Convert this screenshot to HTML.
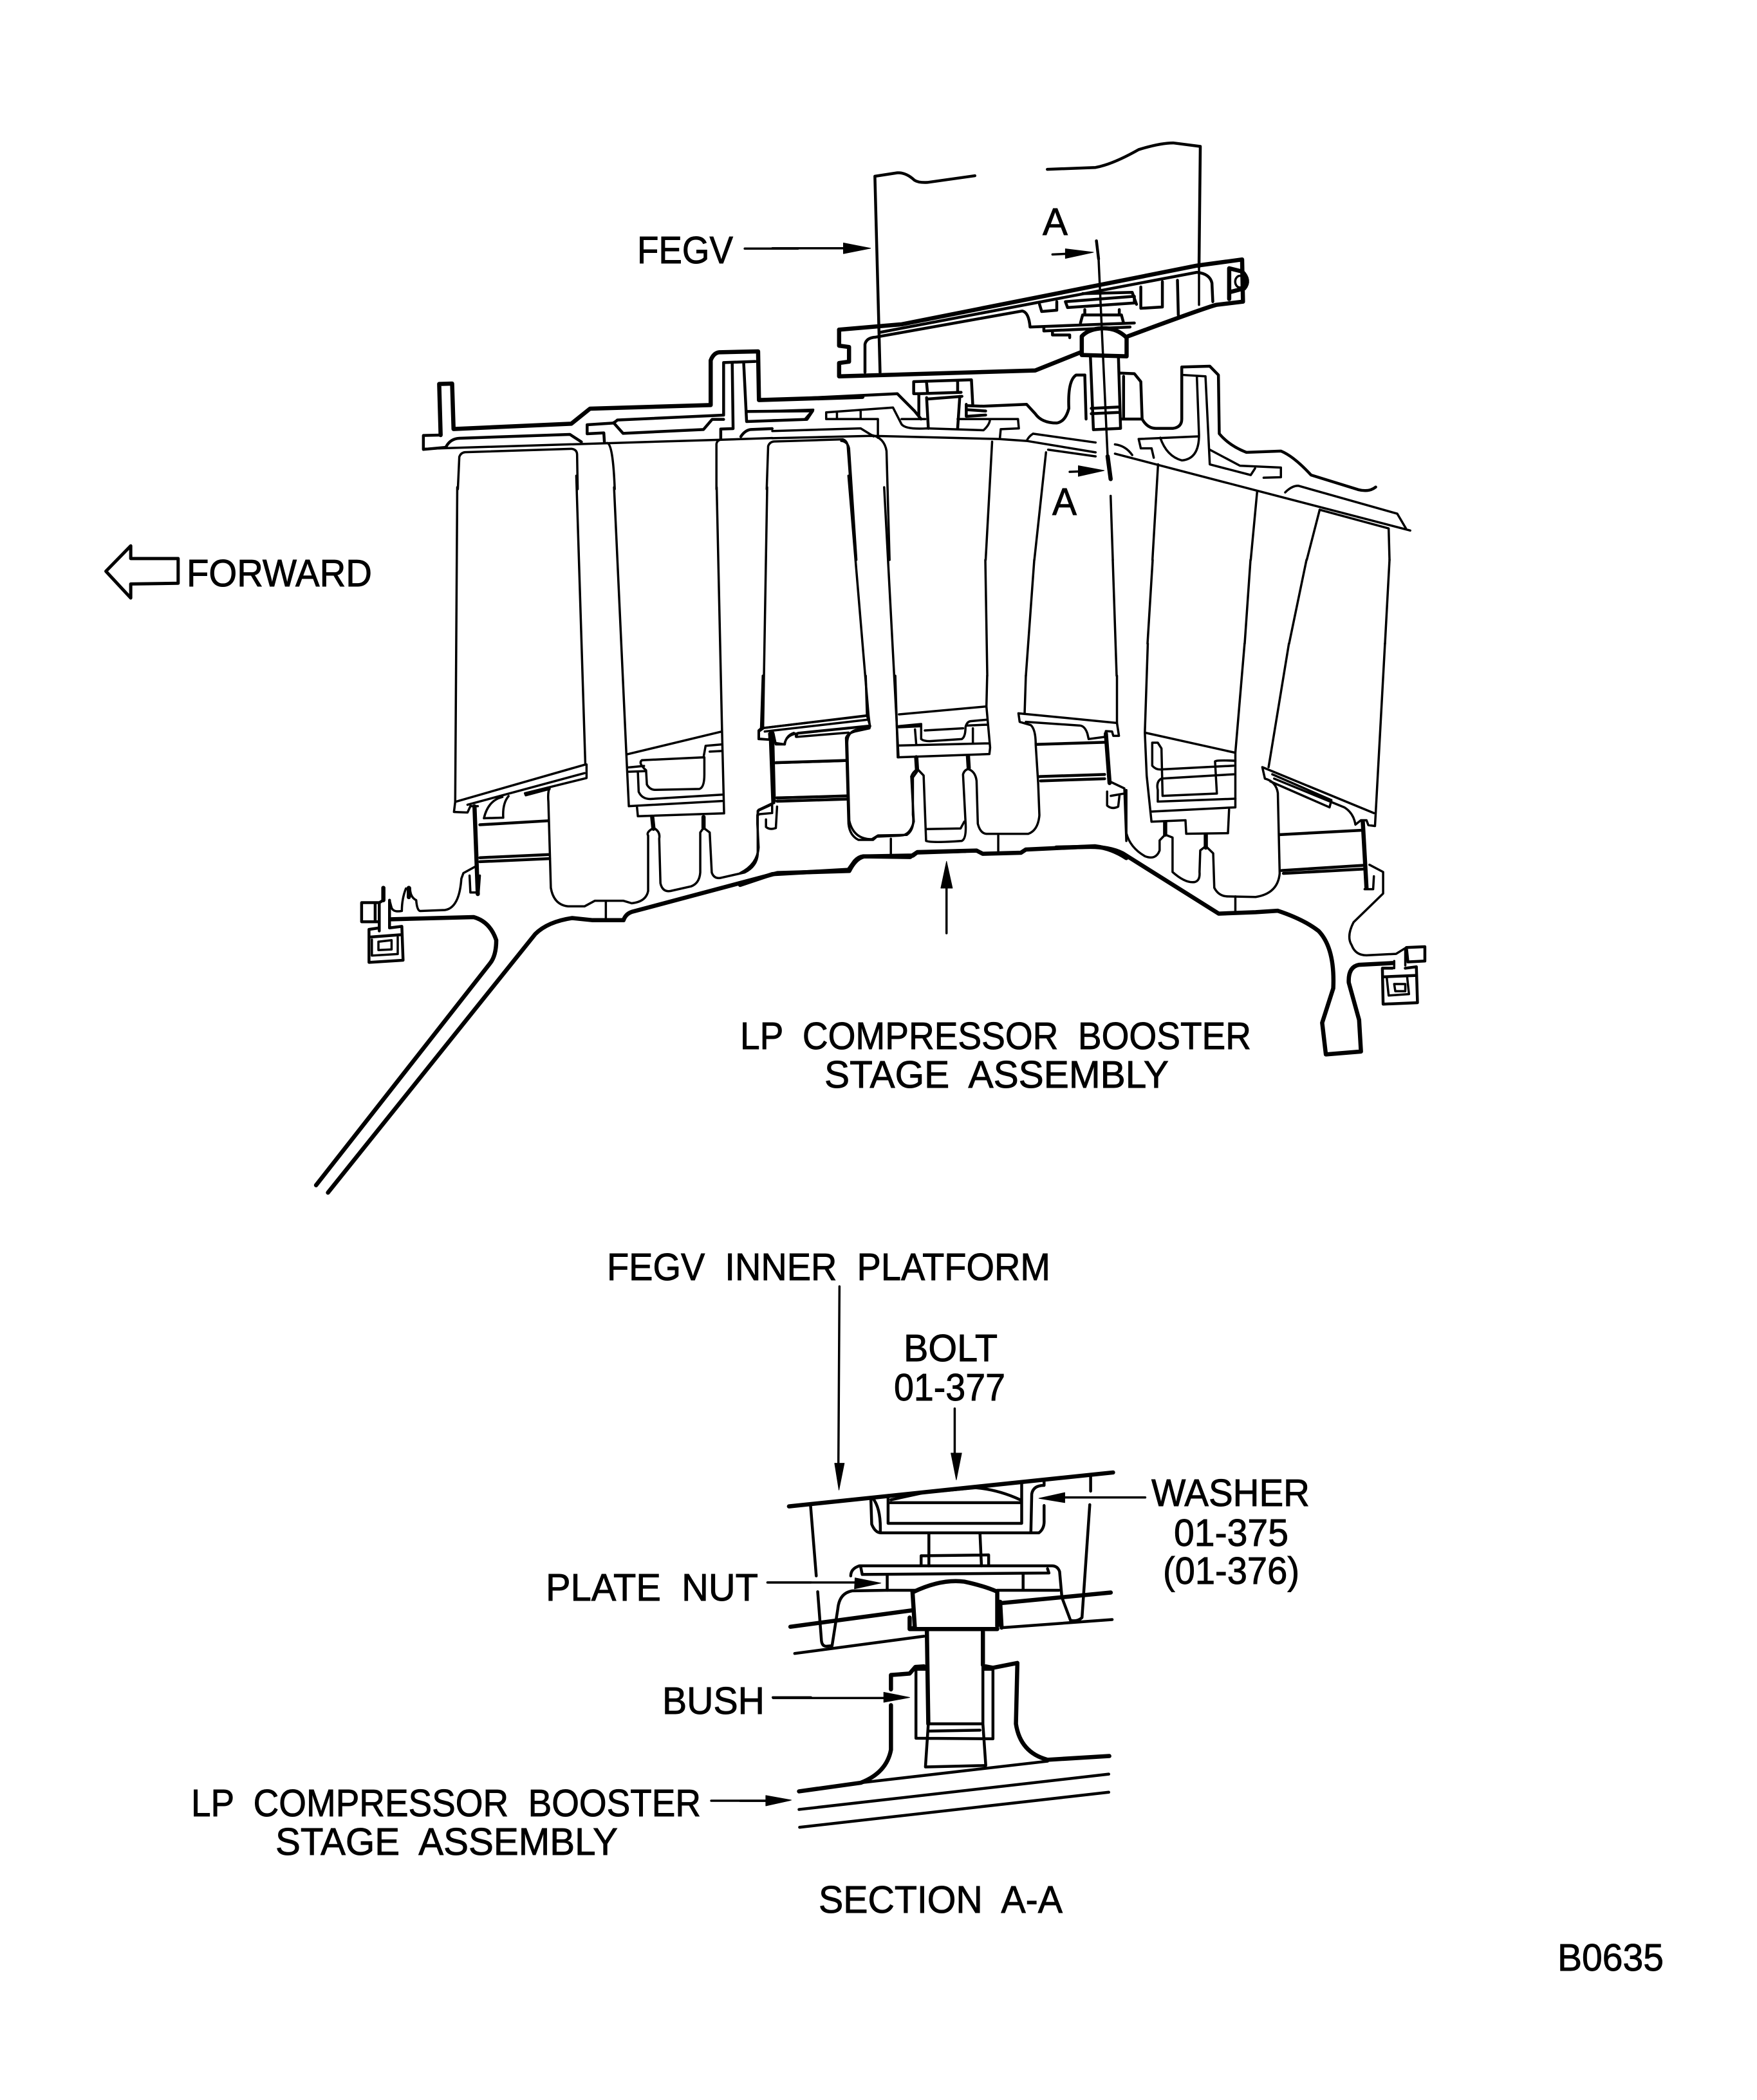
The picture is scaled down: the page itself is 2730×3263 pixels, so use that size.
<!DOCTYPE html>
<html><head><meta charset="utf-8"><style>
html,body{margin:0;padding:0;background:#fff}
svg{display:block}
path,polygon,ellipse{vector-effect:non-scaling-stroke;fill:none;stroke:#000;stroke-linejoin:round;stroke-linecap:round}
.a path,.a ellipse{stroke-width:3.5}
path.b{stroke-width:4.5!important}
path.c{stroke-width:6.5!important}
path.h{fill:#000;stroke-width:1!important}
text{font-family:"Liberation Sans",sans-serif;font-size:59px;fill:#000;stroke:#000;stroke-width:.9;white-space:pre}
</style></head><body>
<svg width="2730" height="3263" viewBox="0 0 2730 3263" xmlns="http://www.w3.org/2000/svg">
<rect width="2730" height="3263" fill="#fff"/>

<!-- Z8: forward arrow, leader -->
<g class="a" transform="translate(140,340) scale(.7015,.3954)">
<path class="c" style="stroke-width:5!important" d="M90,1285L35,1385L90,1490L90,1435L195,1432L195,1335L90,1335Z"/>
<path d="M1450,117L1568,117"/>
</g>

<!-- blade edge links between crops (real coords) -->
<g class="a">
<path d="M1531,870L1534,1050M1607,870L1594,1050M1729,870L1735,1050M1791,870L1783,1000M1943,870L1934,1000M2030,870L2003,1000M2159,870L2152,1000"/>
</g>

<!-- Z1: FEGV, upper right -->
<g class="a" transform="translate(1200,220) scale(.6697,.4145)">
<path class="b" d="M470,128L360,153Q340,155 330,145Q310,115 290,117L238,130L250,865"/>
<path class="b" d="M638,104L750,97Q790,85 850,30Q900,5 930,5L993,18L990,470"/>
<path d="M990,470L990,612"/>
<path d="M0,400L170,400"/><path class="h" d="M165,380L228,400L165,420Z"/>
<path class="c" d="M155,705L300,685L985,465L1090,442L1092,600L1030,612Q1000,625 825,730"/>
<path class="c" d="M155,705L155,765L178,770L178,825L155,830L155,880L610,858L715,790"/>
<path class="b" d="M215,865L215,760Q218,735 240,733L580,635Q595,640 598,695L840,680"/>
<path class="b" d="M250,715L985,490Q1015,495 1020,530L1022,600"/>
<path class="b" d="M620,610L625,637L660,632L660,600M680,600L840,580L840,605L685,622ZM720,570L835,565L845,610M855,545L855,625L905,620L905,525M940,520L942,650"/>
<path class="b" d="M630,695L630,710L830,695M650,710L650,725L690,725L690,735M715,680L720,650L810,650L815,680M725,630L725,650M805,630L805,650"/>
<path class="c" d="M1060,475L1060,590M1060,475L1090,487Q1110,520 1095,550L1060,565"/>
<ellipse cx="1085" cy="525" rx="11" ry="22"/>
<path class="c" d="M718,730Q735,700 770,700Q800,700 822,735L822,805L718,800Z"/>
<path class="b" d="M738,805L745,1080L808,1075L803,805M740,1000L805,995M740,1020L805,1015"/>
<path class="b" d="M725,875L705,875Q685,895 688,1000Q680,1050 660,1055Q625,1055 610,1020L590,985L490,992L455,990"/>
<path class="b" d="M725,875L728,1040M808,868L840,870L855,900L858,1040Q870,1075 890,1075L930,1075Q950,1070 950,1040L950,845L1015,842L1035,875L1037,1095Q1060,1140 1100,1165L1180,1160Q1210,1180 1250,1250L1360,1305Q1385,1315 1400,1295"/>
<path class="b" d="M815,880L815,1040M810,1040L858,1040"/>
<path d="M955,875L1005,880L1015,1210L1110,1250L1120,1225M985,880L990,1100Q990,1190 950,1195Q915,1180 900,1110M850,1115L990,1105M850,1115L855,1150L880,1150L885,1185"/>
<path d="M1015,1155L1085,1215L1180,1222L1180,1258L1140,1260"/>
<path class="b" d="M0,968L290,945L330,1010L345,1040"/>
<path class="b" d="M328,900L462,893L465,985M328,900L328,945L340,945L340,1030M358,905L360,940M430,900L430,940M340,945L438,940M360,965L440,955M358,960L362,1075M435,955L430,1075M450,985L450,1030L495,1025M452,1005L495,1010"/>
<path d="M0,1010L95,1005L75,1042L0,1045M125,1015L125,1040L245,1040L245,1110M150,1015L150,1040M205,1012L205,1040M125,1015L280,997L300,1060Q310,1080 360,1075L490,1082Q505,1060 505,1040L570,1040L572,1075L530,1078L528,1112M300,1040L355,1040M430,1040L505,1040M0,1085L205,1075L235,1105"/>
<path d="M0,1112L230,1103L525,1115L590,1122L750,1165M605,1095L750,1128M590,1122Q595,1105 605,1095M640,1155L750,1180M795,1135Q820,1140 835,1175M795,1170L1480,1458M1190,1315Q1205,1290 1220,1290L1450,1395L1470,1450M1270,1380L1430,1450L1432,1568"/>
<path d="M160,1122Q175,1125 178,1150L195,1568M230,1100Q260,1110 265,1160L272,1568M510,1125L495,1568M635,1165L608,1568M895,1210L882,1568M1125,1310L1110,1568M1270,1380L1240,1568M785,1328L790,1568"/>
<path class="b" d="M752,372L757,440"/>
<path d="M757,440L778,1180"/>
<path class="c" d="M778,1180L785,1265"/>
<path d="M650,423L695,420"/><path class="h" d="M680,402L745,415L680,438Z"/>
<path d="M690,1238L720,1236"/><path class="h" d="M710,1215L770,1233L710,1255Z"/>
</g>

<!-- Z6: casing left -->
<g class="a" transform="translate(640,540) scale(.4464,.3333)">
<path class="c" d="M100,408L95,170L140,168L145,380L555,355L620,285L1040,268L1040,60Q1050,25 1070,22L1205,18L1208,245L1568,230"/>
<path class="b" d="M100,408L40,410L40,475L120,465"/>
<path d="M45,472L1070,430L1254,422"/>
<path class="b" d="M120,460Q135,425 165,423L550,405L590,440"/>
<path class="b" d="M700,352L610,360L610,402L668,398L670,440"/>
<path class="b" d="M700,352Q710,345 715,338L1085,315L1085,70L1195,65M705,355L735,400L1015,382L1045,335L1085,335"/>
<path class="b" d="M1115,75L1118,378L1075,380L1075,425M1155,75L1165,345L1375,335L1395,295L1165,298"/>
<path class="b" d="M1145,415Q1160,385 1180,382L1254,378"/>
<path d="M160,660L165,510Q170,490 185,488L555,472Q575,475 575,500L577,660M680,445Q700,450 706,660M1060,660L1060,450Q1062,435 1070,432M1235,660L1240,460Q1245,440 1260,438L1500,428Q1515,435 1517,460L1528,660"/>
</g>

<!-- Z2: blades left -->
<g class="a" transform="translate(500,650) scale(.6378,.4464)">
<path d="M330,240L325,1335L322,1370L355,1372L362,1350L380,1350"/>
<path d="M620,200L642,1205L325,1335M640,1235L355,1345M645,1205L645,1252L495,1305L497,1312L555,1290"/>
<path d="M395,1392Q405,1330 440,1318M455,1315Q440,1340 442,1390L395,1392"/>
<path d="M712,240L742,1170L748,1350L975,1332M962,240L975,1085L980,1375L770,1385L768,1355M742,1170L975,1090"/>
<path d="M780,1190L930,1180L935,1140L975,1135M780,1190Q770,1200 790,1225L792,1275Q800,1295 815,1293L920,1290Q932,1285 932,1240L932,1180M748,1215L785,1210M748,1230L790,1228M770,1230L772,1300Q780,1325 800,1325L975,1310M945,1160L975,1158"/>
<path d="M1085,240L1075,1078L1330,1035M1283,200L1332,1035L1335,1070L1160,1095L1155,1108M1075,1080L1065,1090L1065,1115L1090,1118L1092,1095L1100,1095L1105,1130L1128,1135Q1130,1105 1150,1095M1335,1075L1300,1085Q1280,1095 1280,1130L1285,1400Q1295,1465 1340,1465L1355,1452L1425,1450Q1445,1430 1440,1380L1440,1250L1450,1230"/>
<path class="c" d="M1097,1095L1101,1330"/>
<path d="M1105,1200L1280,1192M1108,1320L1280,1315M1108,1332L1280,1325"/>
<path d="M1370,240L1405,1180"/>
</g>

<!-- Z4: lower left -->
<g class="a" transform="translate(500,1150) scale(.6378,.4783)">
<path class="c" d="M372,215L380,500"/>
<path d="M555,155Q550,170 552,200L558,480Q565,535 600,540L640,540L665,522L735,522L755,530Q790,525 795,490L795,310Q790,300 805,288"/>
<path d="M812,288Q825,300 822,320L825,465Q830,495 850,490L900,475Q920,465 922,430L922,300L930,285L945,300L950,430Q955,450 970,448L1030,430Q1060,410 1062,370L1062,230L1095,210"/>
<path class="c" d="M805,250L808,288M930,250L930,285"/>
<path class="b" d="M385,275L552,262M385,382L552,372M385,395L555,385"/>
<path d="M375,410L345,432L340,450Q335,545 300,552L240,555Q232,555 230,520Q215,510 215,480M205,482Q195,515 195,555Q175,560 170,545L165,520M360,440L362,495L382,495L385,440"/>
<path class="c" d="M150,480L150,520M212,480L212,510"/>
<path class="b" d="M150,520L140,528L97,528L97,590L130,590L130,528M140,528L140,620M165,520L165,610M130,590L140,590"/>
<path class="c" d="M170,582L370,575Q410,590 425,650Q425,700 410,725L-14,1446"/>
<path class="c" d="M520,630Q550,590 610,578L660,585L735,585Q740,565 755,558L1110,432L1285,425Q1300,385 1320,378L1440,375L1450,365L1568,360M520,630L15,1470"/>
<path d="M692,525L692,580"/>
<path class="b" d="M140,610L115,615L115,722L198,715L195,605L165,610M115,640L195,632"/>
<path d="M122,648L122,700L185,695L185,640M138,655L170,650L170,680L138,682Z"/>
</g>

<!-- Z7: centre -->
<g class="a" transform="translate(1150,1050) scale(.3827,.3333)">
<path d="M85,245L515,185L510,0M515,205L100,260M525,235L225,270L228,285L440,265"/>
<path d="M85,245L75,255L75,295L120,298L118,270L135,270L145,320L180,320Q185,280 225,270"/>
<path d="M85,245L92,0M515,185L528,235"/>
<path d="M630,0L640,380L1012,365L1015,335L1000,143L1003,0M645,180L1000,143M645,235L735,225L735,295Q745,305 770,305L900,295Q915,285 915,240Q920,215 935,212L1000,205M645,240L735,235M920,232L1005,228M645,325L1010,315M710,250L715,320M945,245L945,315M750,255L905,245"/>
<path d="M1160,0L1155,178M1530,0L1530,220"/>
<path class="c" d="M715,380L718,435M925,375L928,430"/>
<path d="M695,470Q700,450 720,435L745,465L755,770Q780,780 900,770Q920,760 915,680L905,460Q910,440 925,435Q955,445 960,490L965,690Q975,735 1000,737L1170,737Q1210,720 1215,650L1210,500L1200,320Q1200,250 1180,230L1135,215L1130,175L1530,220L1538,280L1515,280L1510,260L1485,258L1480,285L1415,295L1410,270Q1400,235 1380,232L1160,215"/>
<path d="M695,470L705,680Q690,745 650,745L555,750L540,765L480,765Q445,745 440,690L430,290Q435,270 465,260L525,245"/>
<path d="M755,715L895,712L910,680"/>
<path class="b" d="M145,405L430,395M150,570L435,560M150,585L435,575M1205,320L1480,310M1215,470L1480,460M1220,490L1480,480"/>
<path class="c" d="M125,290L135,590"/>
<path d="M75,625L130,595L130,640L80,645L70,650L70,690L75,800Q70,880 0,920M105,670L105,705Q120,720 145,710L150,610M75,625L70,650"/>
<path class="c" d="M1485,270L1500,500"/>
<path d="M1505,495L1560,525L1568,770M1505,560L1555,550M1490,540L1490,605Q1510,625 1535,610L1540,560"/>
<path class="c" d="M0,975L130,925L440,905L465,865Q480,845 500,842L690,845L720,822L960,815L985,830L1140,825L1160,810L1440,795Q1510,805 1568,850"/>
<path d="M612,760L612,835M1048,745L1048,825"/>
<path d="M838,1200L838,985"/><path class="h" d="M838,865L815,990L862,990Z"/>
</g>

<!-- Z3: right lower -->
<g class="a" transform="translate(1400,1000) scale(.574,.4464)">
<path d="M660,310L905,380L930,0M668,0L660,310L665,460L678,620L770,615L772,662L885,660L888,578M675,585L905,570L905,380"/>
<path d="M680,345L695,345L705,365L708,530L855,522L850,410Q855,405 905,408M680,345L680,425Q690,440 705,438L900,425M705,470L900,455M705,470Q690,480 695,510L695,550L905,540"/>
<path class="c" d="M715,622L715,665M825,665L825,710"/>
<path d="M610,510L610,660Q620,710 660,740Q690,755 700,720L700,685L715,665L735,675L735,795Q770,835 795,830Q810,825 808,795L810,720L825,705L845,730L848,850Q860,880 885,880L960,882Q1020,870 1025,800L1020,520Q1015,480 985,470L978,430L1280,590"/>
<path d="M1050,0L995,430M1310,0L1283,635L1265,632L1260,615L1245,615L1230,630Q1225,590 1200,570L1010,470M1005,455L1165,545L1160,570L1000,480"/>
<path class="b" d="M1025,665L1245,650M1030,790L1250,772M1035,800L1250,785"/>
<path class="c" d="M1250,620L1260,850"/>
<path d="M1255,855L1278,855L1280,810M1268,770L1305,795L1305,870L1225,970Q1205,1020 1220,1050Q1230,1085 1260,1085L1340,1080L1365,1060L1365,1120M1335,1105L1335,1130"/>
<path class="b" d="M1368,1058L1418,1055L1418,1105L1372,1108Z"/>
<path class="c" d="M1330,1112L1240,1118Q1210,1125 1212,1180L1240,1310L1245,1420L1150,1430L1140,1320L1170,1200Q1175,1060 1130,1000Q1090,960 1020,930L960,935L860,940L600,730Q560,705 500,708L420,710"/>
<path class="b" d="M1330,1130L1303,1130L1305,1255L1398,1250L1395,1125L1365,1130M1305,1160L1395,1155"/>
<path d="M1315,1165L1320,1225L1375,1220L1370,1160M1335,1185L1365,1185L1365,1210L1338,1210Z"/>
<path d="M905,880L905,940"/>
</g>

<!-- Section A-A -->
<g class="a" transform="translate(1150,2250) scale(.4464,.4464)">
<path class="c" d="M170,203L1298,85M175,622L598,565M905,540L1290,503"/>
<path class="c" d="M205,1195L420,1165Q510,1130 525,1050L525,895M525,840L525,790L590,785L610,762L640,760M855,760L880,765L965,748L960,960Q975,1060 1070,1085L1285,1072"/>
<path class="b" d="M245,198L265,445M270,500L283,670Q285,690 300,690L320,688L340,560Q345,505 390,497L510,495L610,495M1220,100L1220,150M1217,197L1190,590Q1175,605 1150,600L1120,520L1112,430Q1105,410 1085,410L415,410Q385,420 385,445M420,415L425,440L1075,435L1070,420"/>
<path class="b" d="M190,715L640,655M915,625L1295,597M512,440L512,495M985,440L985,495M895,495L1110,495M630,408L630,375L865,372L865,408M657,300L657,410M835,300L840,410"/>
<path class="b" d="M455,175L458,265Q470,295 490,295L1040,295Q1060,280 1058,250L1058,200M1058,110L1058,130Q1020,130 1015,160L1012,295M462,175Q490,210 488,290M515,165L515,262L980,262L980,120M520,190L975,190M525,180L640,155L820,138Q900,145 975,180"/>
<path class="c" d="M605,500Q700,455 780,465Q850,480 895,500L895,620M600,500L608,625L590,630L590,590M590,630L895,630M905,535L910,625"/>
<path class="c" d="M650,635L655,960M845,640L845,755"/>
<path class="b" d="M845,755L845,960L855,1105L645,1110L655,960L845,960M660,985L835,982M612,770L612,1010L880,1012L880,770L850,770M612,770L645,770M420,1165L1070,1090M205,1258L1283,1135M207,1320L1283,1198"/>
<path d="M115,870L520,870"/><path class="h" d="M500,850L590,868L500,885Z"/>
<path d="M95,468L410,468"/><path class="h" d="M400,452L490,470L398,490Z"/>
<path d="M1410,172L1130,172"/><path class="h" d="M1130,155L1040,175L1130,190Z"/>
<path d="M0,1228L100,1228"/><path class="h" d="M90,1210L172,1227L90,1245Z"/>
</g>
<g class="a" transform="translate(860,1900) scale(.829,.3954)">
<path d="M536,250L534,950M752,730L752,905"/>
<path class="h" d="M527,945L535,1050L545,945Z"/>
<path class="h" d="M745,905L755,1010L765,905Z"/>
</g>
<g class="a" transform="translate(260,2400) scale(.6378,.357)">
<path d="M1325,1115L1470,1115M1463,165L1568,165M1475,665L1568,665"/>
</g>
<g class="a" transform="translate(260,2400) scale(.6378,.357)">
<path class="h" d="M1458,1092L1520,1112L1458,1137Z"/>
</g>

<!-- Text -->
<text x="290" y="911" textLength="288" lengthAdjust="spacingAndGlyphs">FORWARD</text>
<text x="990" y="409" textLength="149" lengthAdjust="spacingAndGlyphs">FEGV</text>
<text x="1620" y="365" textLength="39" lengthAdjust="spacingAndGlyphs">A</text>
<text x="1635" y="800" textLength="38" lengthAdjust="spacingAndGlyphs">A</text>
<text x="1150" y="1630" textLength="794" lengthAdjust="spacingAndGlyphs">LP  COMPRESSOR  BOOSTER</text>
<text x="1281" y="1690" textLength="535" lengthAdjust="spacingAndGlyphs">STAGE  ASSEMBLY</text>
<text x="943" y="1989" textLength="689" lengthAdjust="spacingAndGlyphs">FEGV  INNER  PLATFORM</text>
<text x="1404" y="2115" textLength="146" lengthAdjust="spacingAndGlyphs">BOLT</text>
<text x="1389" y="2176" textLength="173" lengthAdjust="spacingAndGlyphs">01-377</text>
<text x="1789" y="2340" textLength="246" lengthAdjust="spacingAndGlyphs">WASHER</text>
<text x="1824" y="2402" textLength="178" lengthAdjust="spacingAndGlyphs">01-375</text>
<text x="1807" y="2461" textLength="212" lengthAdjust="spacingAndGlyphs">(01-376)</text>
<text x="848" y="2487" textLength="330" lengthAdjust="spacingAndGlyphs">PLATE  NUT</text>
<text x="1029" y="2663" textLength="159" lengthAdjust="spacingAndGlyphs">BUSH</text>
<text x="297" y="2822" textLength="792" lengthAdjust="spacingAndGlyphs">LP  COMPRESSOR  BOOSTER</text>
<text x="428" y="2882" textLength="532" lengthAdjust="spacingAndGlyphs">STAGE  ASSEMBLY</text>
<text x="1272" y="2972" textLength="379" lengthAdjust="spacingAndGlyphs">SECTION  A-A</text>
<text x="2420" y="3062" textLength="165" lengthAdjust="spacingAndGlyphs">B0635</text>
</svg>
</body></html>
